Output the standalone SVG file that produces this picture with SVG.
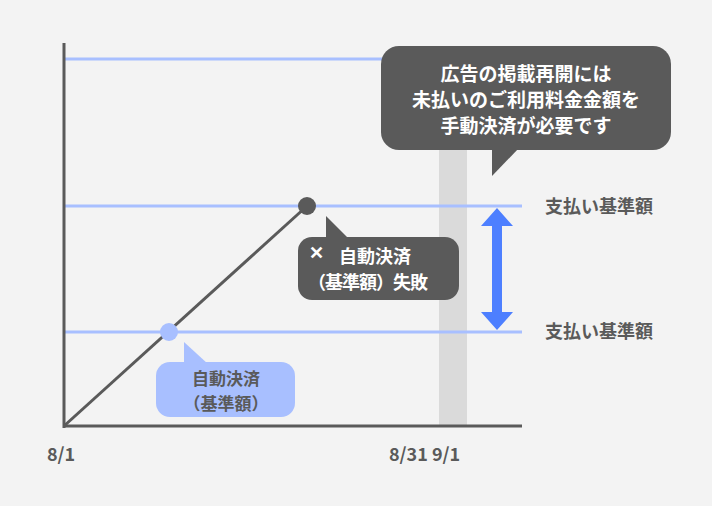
<svg xmlns="http://www.w3.org/2000/svg" width="712" height="506" viewBox="0 0 712 506">
<style>
text{font-family:"Noto Sans CJK JP","Noto Sans",sans-serif;font-weight:bold;font-size:18px}
.big{font-size:19px}
.sm{font-size:17px}
.ref{stroke:#a8bfff;stroke-width:3}
.lbl{fill:#5a5a5a}
.w{fill:#fff}
</style>
<rect width="712" height="506" fill="#f3f3f3"/>
<rect x="439" y="150" width="28" height="276" fill="#dadada"/>
<g id="connectors">
<line class="ref" x1="64" y1="59" x2="522" y2="59"/>
<line class="ref" x1="64" y1="206" x2="522" y2="206"/>
<line class="ref" x1="64" y1="332" x2="522" y2="332"/>
<line x1="64" y1="43" x2="64" y2="428" stroke="#5a5a5a" stroke-width="3"/>
<line x1="63" y1="426" x2="522" y2="426" stroke="#5a5a5a" stroke-width="3"/>
<line x1="64" y1="426" x2="307" y2="206" stroke="#5a5a5a" stroke-width="3"/>
<polygon points="497,208 513,226 502,226 502,312 513,312 497,330 481,312 492,312 492,226 481,226" fill="#4d7fff"/>
</g>
<g id="dot1"><circle cx="307" cy="206" r="9" fill="#5a5a5a"/></g>
<g id="dot2"><circle cx="169" cy="332" r="9" fill="#a8bfff"/></g>
<g id="bubble-main">
<rect x="381" y="46" width="290" height="104" rx="18" fill="#5a5a5a"/>
<polygon points="492,148 492,176 519,148" fill="#5a5a5a"/>
<text class="w big" x="526" y="81" text-anchor="middle">広告の掲載再開には</text>
<text class="w big" x="526" y="107" text-anchor="middle">未払いのご利用料金金額を</text>
<text class="w big" x="526" y="133" text-anchor="middle">手動決済が必要です</text>
</g>
<g id="bubble-fail">
<rect x="298" y="237" width="161" height="63" rx="14" fill="#5a5a5a"/>
<polygon points="326,239 326,216 349,239" fill="#5a5a5a"/>
<text class="w" x="309" y="259">✕</text>
<text class="w" x="339" y="263">自動決済</text>
<text class="w" x="308" y="289" letter-spacing="-1">（基準額）失敗</text>
</g>
<g id="bubble-auto">
<rect x="156" y="362" width="139" height="55" rx="14" fill="#a8bfff"/>
<polygon points="184,364 184,342 208,364" fill="#a8bfff"/>
<text class="lbl sm" x="226" y="385" text-anchor="middle">自動決済</text>
<text class="lbl sm" x="226" y="410" text-anchor="middle">（基準額）</text>
</g>
<g id="labels">
<text class="lbl" x="545" y="213">支払い基準額</text>
<text class="lbl" x="545" y="338">支払い基準額</text>
<text class="lbl" x="47" y="461">8/1</text>
<text class="lbl" x="389" y="461">8/31 9/1</text>
</g>
</svg>
